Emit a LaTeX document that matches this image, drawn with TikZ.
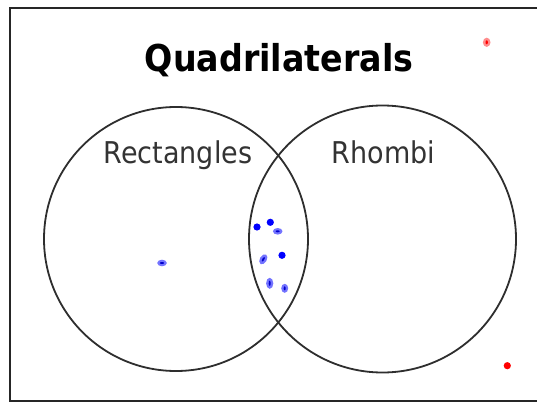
\documentclass[tikz,border=0pt]{standalone}
\usepackage{fontspec}
\setmainfont{DejaVu Sans Condensed}
\newfontfamily\titlefont{DejaVu Sans Condensed}
\tikzset{
  frameline/.style={line width=2.2pt, black!85},
  setline/.style={line width=1.8pt, black!82},
  titletext/.style={font=\titlefont\bfseries\fontsize{37}{40}\selectfont, anchor=base, inner sep=0pt},
  settext/.style={font=\fontsize{30}{34}\selectfont, text=black!80, anchor=base, inner sep=0pt},
  bluedot/.style={fill=blue, draw=none},
  bluehalo/.style={fill=blue!55!white, draw=none},
  bluecore/.style={fill=blue!80!black, draw=none},
  reddot/.style={fill=red, draw=none},
  redhalo/.style={fill=red!45!white, draw=none}
}
\begin{document}
\begin{tikzpicture}[x=1pt, y=-1pt]
  \useasboundingbox (0,0) rectangle (537,403);
  \fill[white] (0,0) rectangle (537,403);

  % outer frame, open on the right
  \draw[frameline] (537,8) -- (10,8) -- (10,401) -- (537,401);

  % title
  \node[titletext] (title) at (279,72) {Quadrilaterals};

  % the two sets
  \draw[setline] (176,239) circle[radius=132];
  \draw[setline] (382.5,239) circle[radius=133.5];
  \node[settext] (rect) at (178,164) {Rectangles};
  \node[settext] (rhombi) at (383.5,164) {Rhombi};

  % points in the intersection
  \fill[bluedot] (257,227) circle[radius=3.6];
  \fill[bluedot] (270.3,222.3) circle[radius=3.6];
  \fill[bluedot] (282,255.3) circle[radius=3.6];

  \fill[bluehalo] (277.7,231.3) ellipse[x radius=4.8, y radius=3.3];
  \fill[bluecore] (277.7,231.3) ellipse[x radius=2, y radius=1];

  \fill[bluehalo, rotate around={60:(263.3,259.3)}] (263.3,259.3) ellipse[x radius=5.5, y radius=3.5];
  \fill[bluecore, rotate around={60:(263.3,259.3)}] (263.3,259.3) ellipse[x radius=2.5, y radius=1];

  \fill[bluehalo] (269.7,283.3) ellipse[x radius=3.6, y radius=5.5];
  \fill[bluecore] (269.7,283.3) ellipse[x radius=1, y radius=2.6];

  \fill[bluehalo] (284.7,288.3) ellipse[x radius=3.5, y radius=4.5];
  \fill[bluecore] (284.7,288.3) ellipse[x radius=1, y radius=2];

  % point in rectangles only
  \fill[bluehalo] (162,263) ellipse[x radius=4.8, y radius=3.3];
  \fill[bluecore] (162,263) ellipse[x radius=2.2, y radius=1];

  % points outside both sets
  \fill[redhalo] (486.7,42.3) ellipse[x radius=3.8, y radius=4.6];
  \fill[red] (486.7,42.3) ellipse[x radius=1.2, y radius=2];
  \fill[reddot] (507.3,365.7) circle[radius=3.6];
\end{tikzpicture}
\end{document}
